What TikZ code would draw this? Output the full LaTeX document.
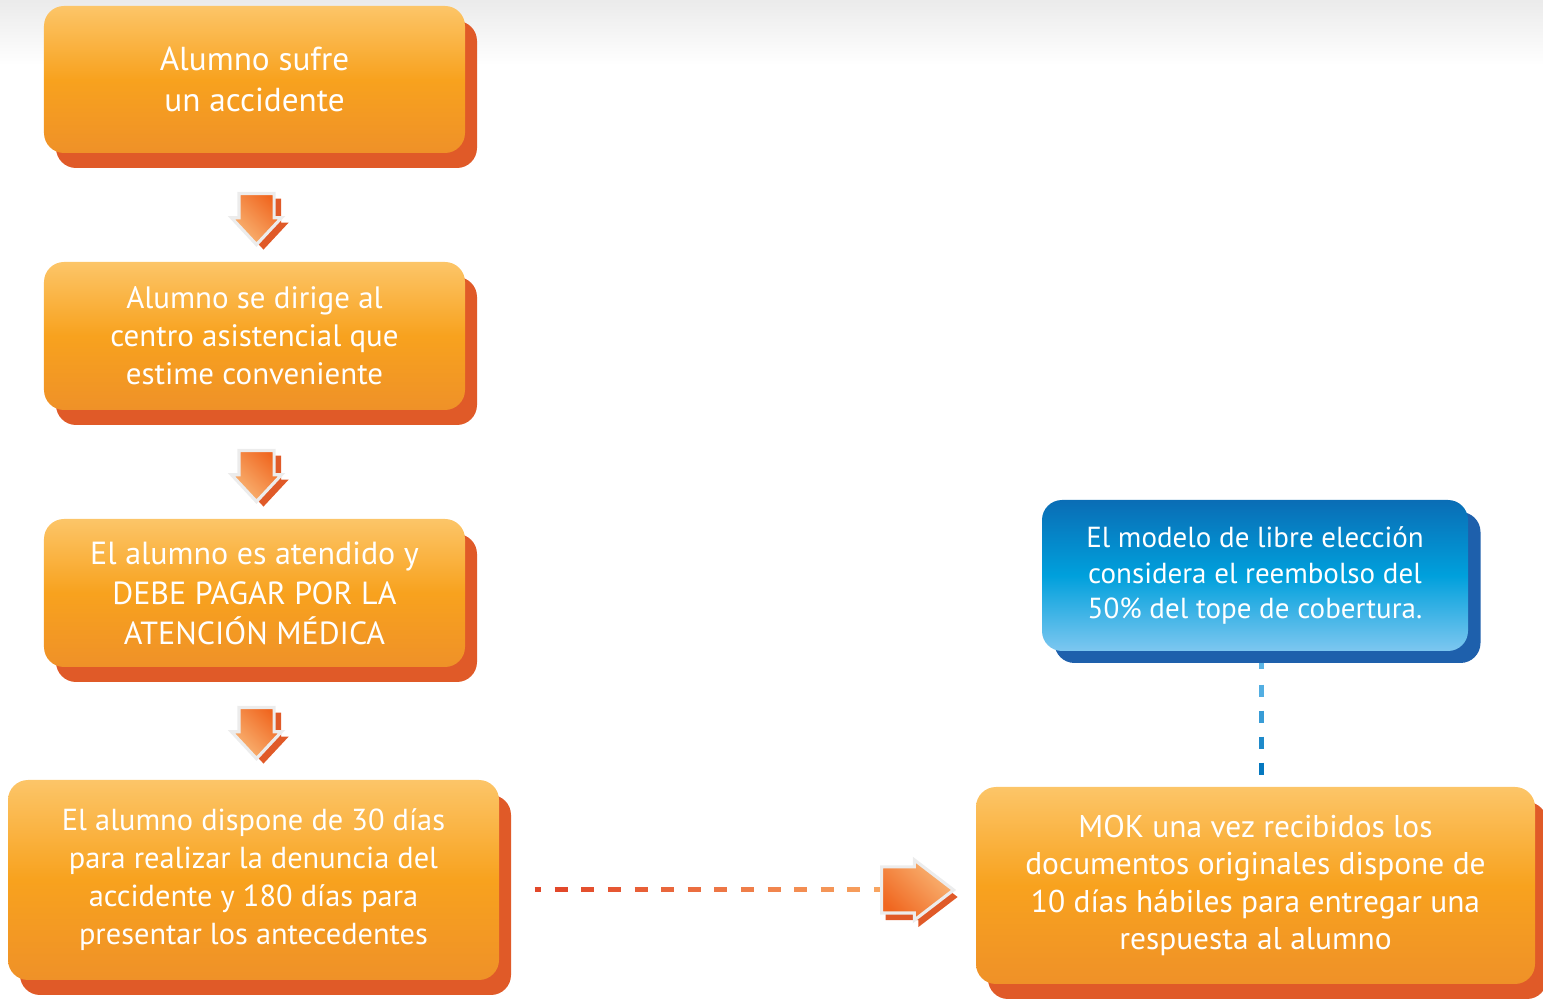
\documentclass[tikz,border=0pt]{standalone}
\usepackage{fontspec}
\setmainfont{PT Sans}
\usetikzlibrary{shapes.arrows,shadows,calc}
\definecolor{naranjaclaro}{HTML}{FCC568}
\definecolor{naranja}{HTML}{F8A21E}
\definecolor{naranjaosc}{HTML}{EF9128}
\definecolor{sombra}{HTML}{E05A28}
\definecolor{azulosc}{HTML}{0A6DB5}
\definecolor{azul}{HTML}{00A0DC}
\definecolor{azulclaro}{HTML}{7DC7F0}
\definecolor{sombraazul}{HTML}{1E60AC}
\definecolor{flechaclara}{HTML}{F9B878}
\definecolor{flechaosc}{HTML}{F0661F}
\definecolor{rayaini}{HTML}{E2482A}
\definecolor{rayafin}{HTML}{F9A862}
\definecolor{puntoclaro}{HTML}{5BB5E6}
\definecolor{puntoosc}{HTML}{0074BC}
\tikzset{
  paso/.style={rounded corners=0.2cm, top color=naranjaclaro, bottom color=naranjaosc,
    middle color=naranja, text=white, align=center, inner sep=0pt,
    drop shadow={shadow xshift=0.12cm, shadow yshift=-0.15cm, fill=sombra, opacity=1}},
  nota/.style={rounded corners=0.2cm, top color=azulosc, bottom color=azulclaro,
    middle color=azul, text=white, align=center, inner sep=0pt,
    drop shadow={shadow xshift=0.125cm, shadow yshift=-0.12cm, fill=sombraazul, opacity=1}},
  flecha/.style={single arrow, anchor=tail, draw=white!85!gray, line width=0.9pt},
  bajar/.style={flecha, shape border rotate=270, inner xsep=0.16cm, inner ysep=0pt,
    minimum height=0.51cm, single arrow head extend=0.075cm, single arrow tip angle=86,
    top color=flechaosc, bottom color=flechaclara, shading angle=-45,
    drop shadow={shadow xshift=0.07cm, shadow yshift=-0.05cm, fill=sombra, opacity=1}},
  raya/.style={line width=0.05cm},
}
\begin{document}
\begin{tikzpicture}
  \useasboundingbox (0,0) rectangle (15.43,-9.99);
  \shade[top color=black!8, bottom color=white] (0,0) rectangle (15.43,-0.65);
  % columna de pasos
  \node[paso, minimum width=4.21cm, minimum height=1.47cm, font=\fontsize{9.45}{11.7}\selectfont]
    (p1) at (2.545,-0.795) {Alumno sufre\\un accidente};
  \node[paso, minimum width=4.21cm, minimum height=1.48cm, font=\fontsize{8.8}{10.8}\selectfont]
    (p2) at (2.545,-3.36) {Alumno se dirige al\\centro asistencial que\\estime conveniente};
  \node[paso, minimum width=4.21cm, minimum height=1.48cm, font=\fontsize{9.1}{11.4}\selectfont]
    (p3) at (2.545,-5.93) {El alumno es atendido y\\DEBE PAGAR POR LA\\ATENCIÓN MÉDICA};
  \node[paso, minimum width=4.91cm, minimum height=2.00cm, font=\fontsize{8.65}{10.8}\selectfont]
    (p4) at (2.535,-8.80) {El alumno dispone de 30 días\\para realizar la denuncia del\\accidente y 180 días para\\presentar los antecedentes};
  \node[bajar] (f1) at (2.565,-1.92) {};
  \node[bajar] (f2) at (2.565,-4.49) {};
  \node[bajar] (f3) at (2.565,-7.06) {};
  % lado derecho
  \node[nota, minimum width=4.26cm, minimum height=1.51cm, font=\fontsize{8.25}{10.2}\selectfont]
    (n1) at (12.55,-5.755) {El modelo de libre elección\\considera el reembolso del\\50\% del tope de cobertura.};
  \node[paso, minimum width=5.59cm, minimum height=1.97cm, font=\fontsize{8.95}{10.7}\selectfont]
    (p5) at (12.555,-8.855) {MOK una vez recibidos los\\documentos originales dispone de\\10 días hábiles para entregar una\\respuesta al alumno};
  % raya naranja
  \coordinate (ds) at ($(p4.east)+(0.35,-0.10)$);
  \draw[raya, rayaini] (ds) -- ++(0.06,0);
  \foreach \k in {0,...,12} {
    \pgfmathtruncatemacro\m{100-\k*8}
    \draw[raya, color=rayaini!\m!rayafin] ($(ds)+(0.2+\k*0.266,0)$) -- ++(0.13,0);
  }
  \node[flecha, inner ysep=0.215cm, inner xsep=0pt, minimum height=0.72cm,
    single arrow head extend=0.07cm, single arrow tip angle=75,
    top color=flechaclara, bottom color=flechaosc, shading angle=-45,
    drop shadow={shadow xshift=0.04cm, shadow yshift=-0.07cm, fill=sombra, opacity=1}]
    (f4) at (8.80,-8.90) {};
  % puntos azules
  \draw[raya, puntoclaro] ($(n1.south)+(0.06,-0.11)$) -- ++(0,-0.06);
  \foreach \k in {0,...,3} {
    \pgfmathtruncatemacro\m{90-\k*28}
    \draw[raya, color=puntoclaro!\m!puntoosc] ($(n1.south)+(0.06,-0.33-\k*0.26)$) -- ++(0,-0.12);
  }
\end{tikzpicture}
\end{document}
